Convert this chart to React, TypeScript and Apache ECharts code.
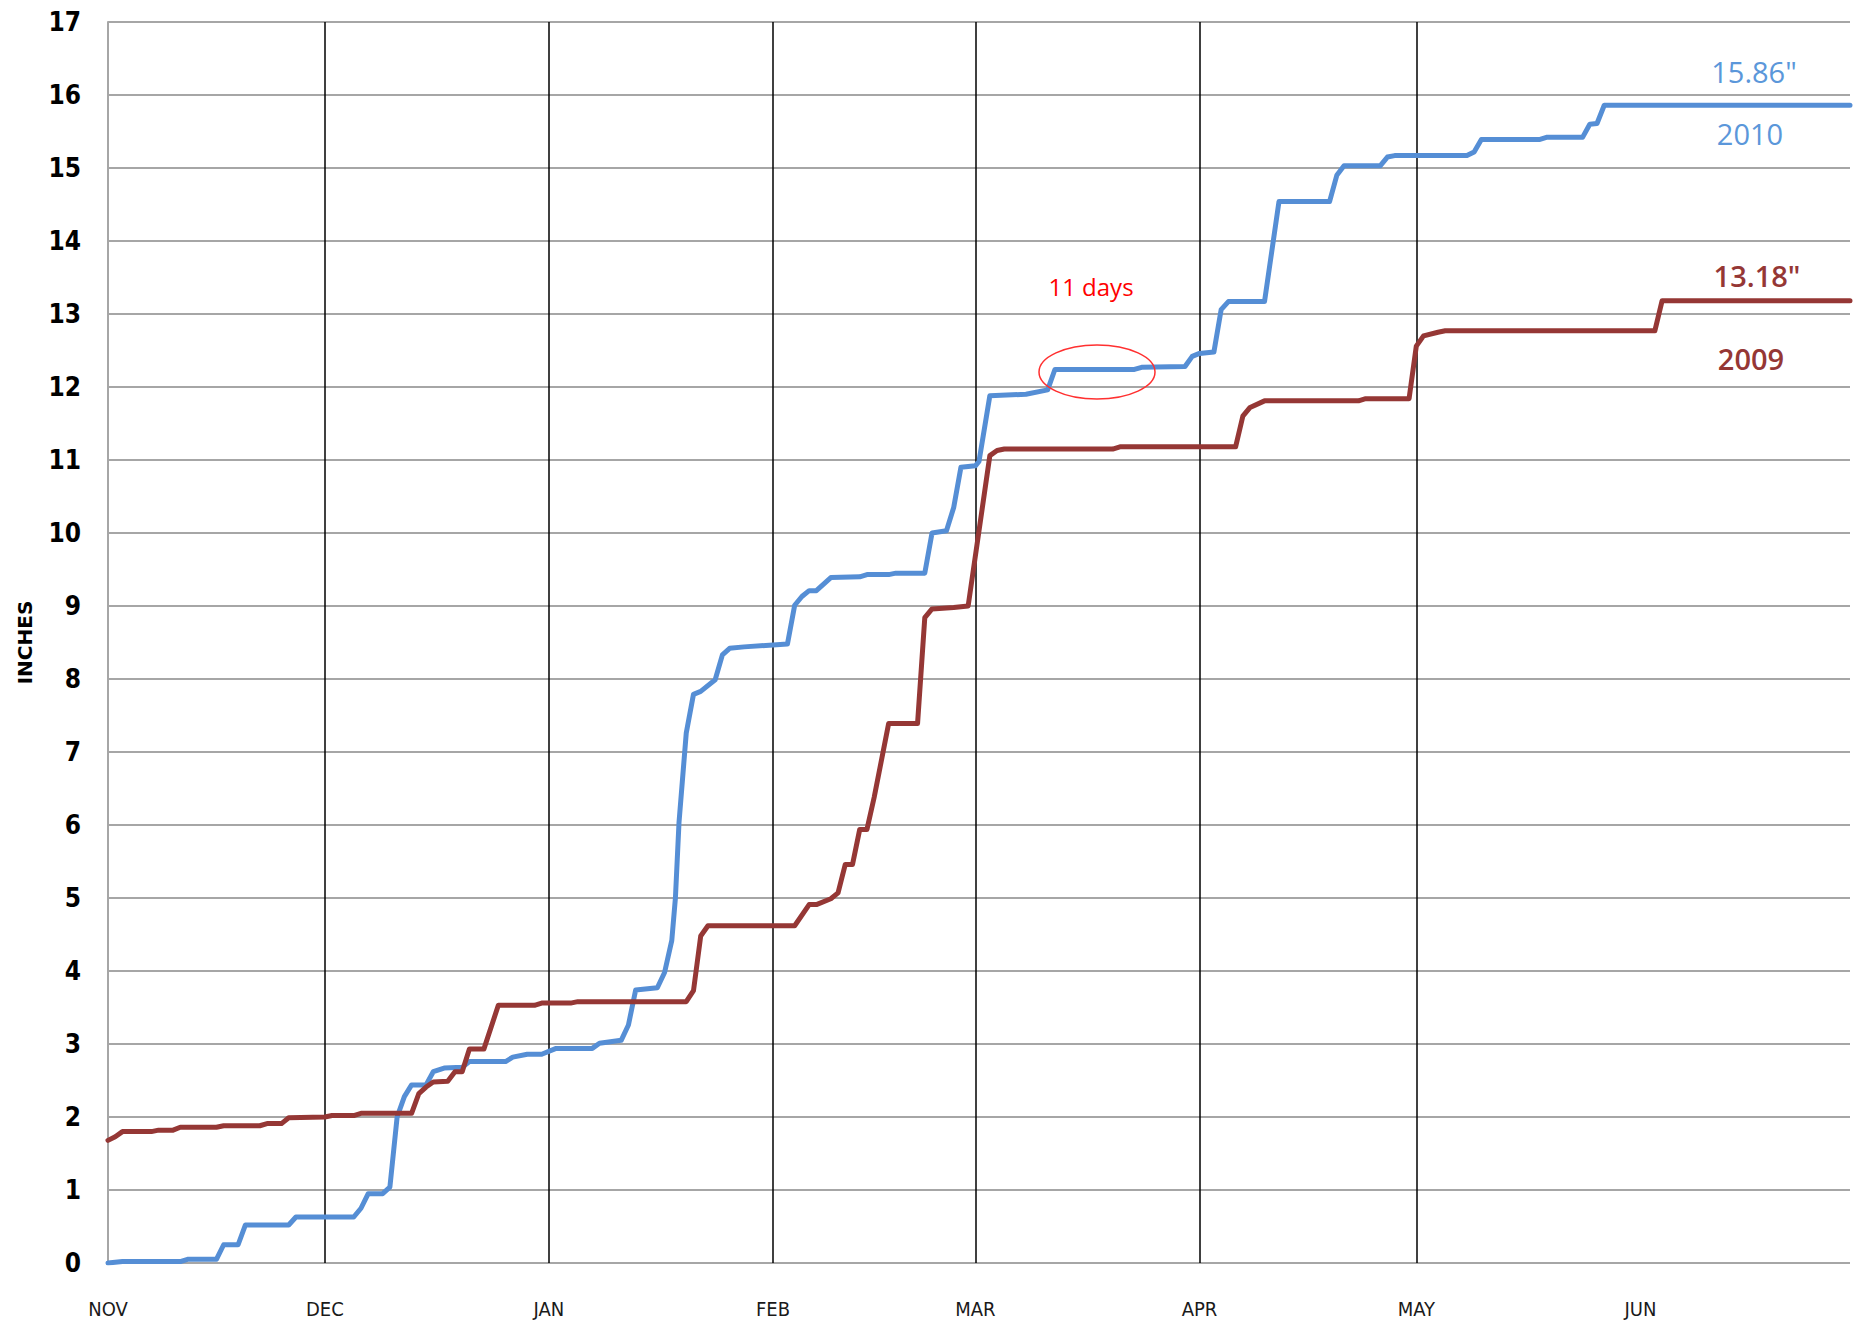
import React, { useEffect, useRef } from 'react';
import * as echarts from 'echarts';

// Day offsets from Nov 1 where each month starts, and their labels
const monthStarts = [0, 30, 61, 92, 120, 151, 181, 212];
const monthLabels = ['NOV', 'DEC', 'JAN', 'FEB', 'MAR', 'APR', 'MAY', 'JUN'];

// Cumulative precipitation [day since Nov 1, inches]
const season2010: [number, number][] = [
  [0, 0], [2, 0.02], [10, 0.02], [11, 0.05], [15, 0.05], [16, 0.25], [18, 0.25], [19, 0.52],
  [25, 0.52], [26, 0.63], [34, 0.63], [35, 0.75], [36, 0.95], [38, 0.95], [39, 1.04], [40, 2.0],
  [41, 2.28], [42, 2.44], [44, 2.44], [45, 2.62], [46.5, 2.67], [49, 2.68], [50, 2.76], [55, 2.76],
  [56, 2.82], [58, 2.86], [60, 2.86], [62, 2.94], [67, 2.94], [68, 3.01], [71, 3.05], [72, 3.26],
  [73, 3.74], [76, 3.77], [77, 3.98], [78, 4.42], [78.5, 5.0], [79, 6.04], [80, 7.26], [81, 7.79],
  [82, 7.83], [84, 7.99], [85, 8.33], [86, 8.42], [88, 8.44], [91, 8.46], [94, 8.48], [95, 9.01],
  [96, 9.13], [97, 9.21], [98, 9.21], [100, 9.39], [104, 9.4], [105, 9.43], [108, 9.43], [109, 9.45],
  [113, 9.45], [114, 10.0], [116, 10.03], [117, 10.35], [118, 10.9], [120, 10.92], [120.5, 10.98],
  [122, 11.88], [127, 11.9], [130, 11.96], [131, 12.24], [142, 12.24], [143, 12.27], [149, 12.28],
  [150, 12.42], [151, 12.46], [153, 12.48], [154, 13.06], [155, 13.17], [160, 13.17], [162, 14.54],
  [169, 14.54], [170, 14.9], [171, 15.03], [176, 15.03], [177, 15.15], [178, 15.17], [188, 15.17],
  [189, 15.22], [190, 15.39], [198, 15.39], [199, 15.42], [204, 15.42], [205, 15.6], [206, 15.61],
  [207, 15.86], [241, 15.86],
];

const season2009: [number, number][] = [
  [0, 1.68], [1, 1.73], [2, 1.8], [6, 1.8], [7, 1.82], [9, 1.82], [10, 1.86], [15, 1.86],
  [16, 1.88], [21, 1.88], [22, 1.91], [24, 1.91], [25, 1.99], [30, 2.0], [31, 2.02], [34, 2.02],
  [35, 2.05], [42, 2.05], [43, 2.32], [44, 2.41], [45, 2.48], [47, 2.49], [48, 2.62], [49, 2.62],
  [50, 2.93], [52, 2.93], [54, 3.53], [59, 3.53], [60, 3.56], [64, 3.56], [65, 3.58], [80, 3.58],
  [81, 3.73], [82, 4.48], [83, 4.62], [95, 4.62], [97, 4.91], [98, 4.91], [100, 4.99], [101, 5.07],
  [102, 5.46], [103, 5.46], [104, 5.94], [105, 5.94], [106, 6.38], [108, 7.39], [112, 7.39],
  [113, 8.84], [114, 8.96], [117, 8.98], [119, 9.0], [122, 11.06], [123, 11.13], [124, 11.15],
  [139, 11.15], [140, 11.18], [156, 11.18], [157, 11.6], [158, 11.72], [160, 11.81], [173, 11.81],
  [174, 11.84], [180, 11.84], [181, 12.56], [182, 12.7], [184, 12.75], [185, 12.77], [214, 12.77],
  [215, 13.18], [241, 13.18],
];

const totals = ['15.86"', '13.18"'];
const seasonNames = ['2010', '2009'];
const noteText = '11 days';

const BLUE = '#558ed5';
const BLUE_TEXT = '#5b97da';
const RED = '#953735';
const GRID_GRAY = '#a6a6a6';
const NARROW = '"Liberation Sans Narrow", "Arial Narrow", "DejaVu Sans Condensed", sans-serif';

export default function App() {
  const ref = useRef<HTMLDivElement>(null);

  useEffect(() => {
    if (!ref.current) return;
    const chart = echarts.init(ref.current, undefined, { renderer: 'svg' });
    chart.setOption({
      animation: false,
      backgroundColor: '#ffffff',
      grid: { left: 108, right: 6, top: 22, bottom: 57 },
      xAxis: {
        type: 'value',
        min: 0,
        max: 241,
        axisLine: { show: false },
        axisTick: { show: false, customValues: monthStarts },
        axisLabel: {
          customValues: monthStarts,
          formatter: (v: number) => {
            const i = monthStarts.indexOf(Math.round(v));
            return i >= 0 ? monthLabels[i] : '';
          },
          margin: 36,
          fontSize: 20,
          fontFamily: NARROW,
          color: '#1a1a1a',
        },
        splitLine: {
          show: true,
          showMinLine: false,
          showMaxLine: false,
          lineStyle: { color: '#000000', width: 1.5 },
        },
      },
      yAxis: {
        type: 'value',
        min: 0,
        max: 17,
        interval: 1,
        name: 'INCHES',
        nameLocation: 'middle',
        nameGap: 73,
        nameRotate: 90,
        nameTextStyle: {
          fontFamily: '"DejaVu Sans", sans-serif',
          fontWeight: 'bold',
          fontSize: 20,
          color: '#000000',
        },
        axisLine: { show: true, lineStyle: { color: GRID_GRAY, width: 2 } },
        axisTick: { show: false },
        axisLabel: {
          margin: 27,
          fontSize: 26,
          fontWeight: 'bold',
          fontFamily: NARROW,
          color: '#000000',
        },
        splitLine: { show: true, lineStyle: { color: GRID_GRAY, width: 2 } },
      },
      series: [
        {
          name: seasonNames[0],
          type: 'line',
          data: season2010,
          showSymbol: false,
          lineStyle: { color: BLUE, width: 5, join: 'round', cap: 'round' },
          itemStyle: { color: BLUE },
          z: 3,
        },
        {
          name: seasonNames[1],
          type: 'line',
          data: season2009,
          showSymbol: false,
          lineStyle: { color: RED, width: 5, join: 'round', cap: 'round' },
          itemStyle: { color: RED },
          z: 4,
        },
      ],
      graphic: [
        {
          type: 'text', x: 1754, y: 71, z: 10,
          style: { text: totals[0], fill: BLUE_TEXT, fontSize: 29, fontFamily: '"Open Sans", sans-serif', align: 'center', verticalAlign: 'middle' },
        },
        {
          type: 'text', x: 1750, y: 133, z: 10,
          style: { text: seasonNames[0], fill: BLUE_TEXT, fontSize: 29, fontFamily: '"Open Sans", sans-serif', align: 'center', verticalAlign: 'middle' },
        },
        {
          type: 'text', x: 1757, y: 275, z: 10,
          style: { text: totals[1], fill: RED, fontSize: 29, fontWeight: 600, fontFamily: '"Open Sans", sans-serif', align: 'center', verticalAlign: 'middle' },
        },
        {
          type: 'text', x: 1751, y: 358, z: 10,
          style: { text: seasonNames[1], fill: RED, fontSize: 29, fontWeight: 600, fontFamily: '"Open Sans", sans-serif', align: 'center', verticalAlign: 'middle' },
        },
        {
          type: 'text', x: 1091, y: 286, z: 10,
          style: { text: noteText, fill: '#ff0000', fontSize: 24, fontFamily: '"Open Sans", sans-serif', align: 'center', verticalAlign: 'middle' },
        },
        {
          type: 'ellipse', z: 10,
          shape: { cx: 1097, cy: 372, rx: 58, ry: 27 },
          style: { fill: 'none', stroke: '#ff3030', lineWidth: 1.5 },
        },
      ],
    });
    return () => chart.dispose();
  }, []);

  return (
    <div
      ref={ref}
      style={{ position: 'absolute', left: 0, top: 0, width: 1856, height: 1320, background: '#fff' }}
    />
  );
}
